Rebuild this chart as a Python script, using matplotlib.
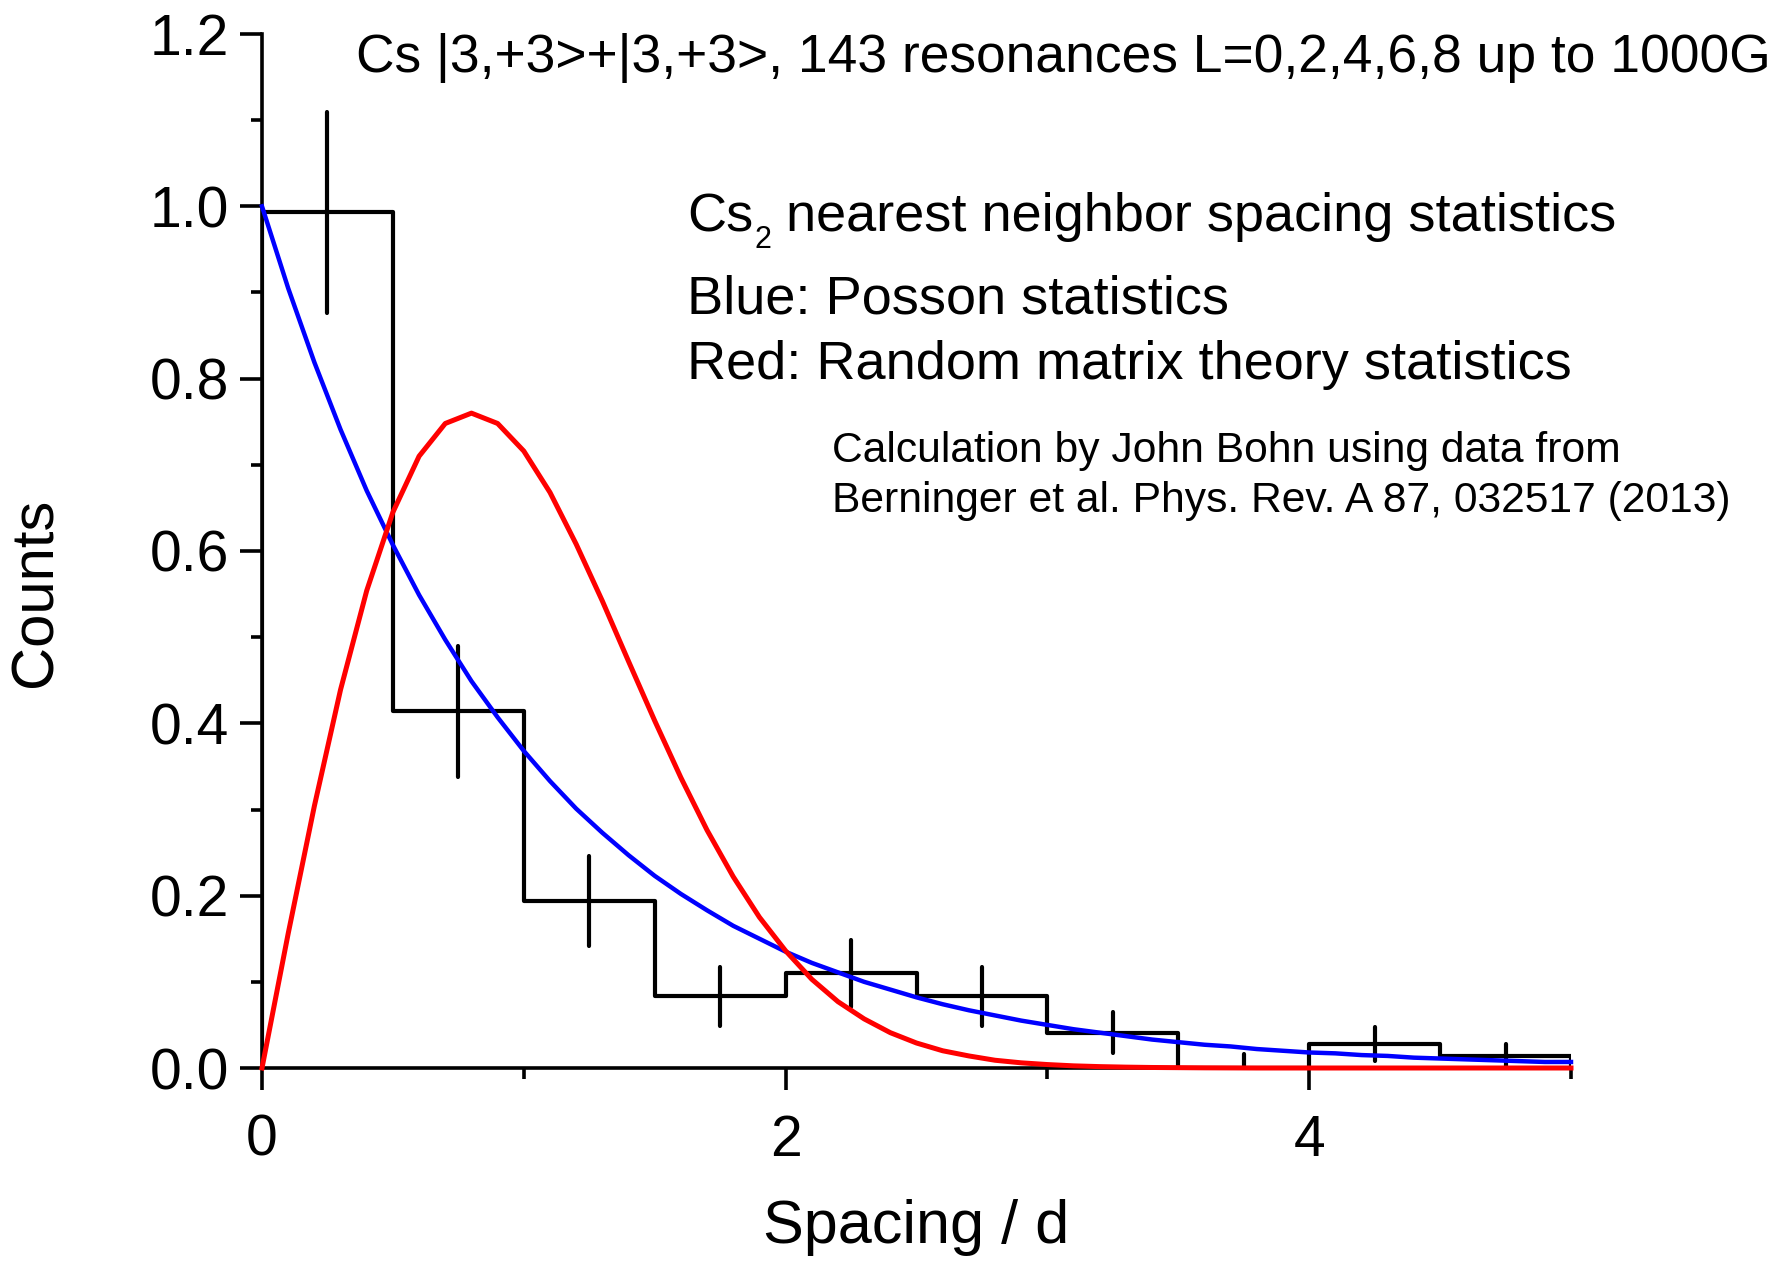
import matplotlib
matplotlib.use("Agg")
import matplotlib.pyplot as plt
from matplotlib.ticker import MultipleLocator

plt.rcParams['font.family'] = ['Liberation Sans', 'DejaVu Sans']

# ---- data ----
bin_edges = [0.0, 0.5, 1.0, 1.5, 2.0, 2.5, 3.0, 3.5, 4.0, 4.5, 5.0]
bin_centers = [0.25, 0.75, 1.25, 1.75, 2.25, 2.75, 3.25, 3.75, 4.25, 4.75]
counts = [0.993, 0.414, 0.194, 0.083, 0.110, 0.083, 0.041, 0.0, 0.028, 0.014]
count_err = [0.117, 0.076, 0.052, 0.034, 0.039, 0.034, 0.024, 0.016, 0.020, 0.014]

s_vals = [0.0, 0.1, 0.2, 0.3, 0.4, 0.5, 0.6, 0.7, 0.8, 0.9,
          1.0, 1.1, 1.2, 1.3, 1.4, 1.5, 1.6, 1.7, 1.8, 1.9,
          2.0, 2.1, 2.2, 2.3, 2.4, 2.5, 2.6, 2.7, 2.8, 2.9,
          3.0, 3.1, 3.2, 3.3, 3.4, 3.5, 3.6, 3.7, 3.8, 3.9,
          4.0, 4.1, 4.2, 4.3, 4.4, 4.5, 4.6, 4.7, 4.8, 4.9, 5.0]
poisson = [1.000, 0.905, 0.819, 0.741, 0.670, 0.607, 0.549, 0.497, 0.449, 0.407,
           0.368, 0.333, 0.301, 0.273, 0.247, 0.223, 0.202, 0.183, 0.165, 0.150,
           0.135, 0.122, 0.111, 0.100, 0.091, 0.082, 0.074, 0.067, 0.061, 0.055,
           0.050, 0.045, 0.041, 0.037, 0.033, 0.030, 0.027, 0.025, 0.022, 0.020,
           0.018, 0.017, 0.015, 0.014, 0.012, 0.011, 0.010, 0.009, 0.008, 0.007, 0.007]
rmt = [0.000, 0.156, 0.304, 0.439, 0.554, 0.645, 0.710, 0.748, 0.760, 0.748,
       0.716, 0.668, 0.608, 0.542, 0.472, 0.403, 0.337, 0.276, 0.222, 0.175,
       0.136, 0.103, 0.077, 0.057, 0.041, 0.029, 0.020, 0.014, 0.009, 0.006,
       0.004, 0.0025, 0.0016, 0.0010, 0.0006, 0.0004, 0.0002, 0.0001, 0.0, 0.0,
       0.0, 0.0, 0.0, 0.0, 0.0, 0.0, 0.0, 0.0, 0.0, 0.0, 0.0]

title_text = "Cs |3,+3>+|3,+3>, 143 resonances L=0,2,4,6,8 up to 1000G"
note1_parts = ["Cs", "2", " nearest neighbor spacing statistics"]
notes_big = ["Blue: Posson statistics",
             "Red: Random matrix theory statistics"]
notes_small = ["Calculation by John Bohn using data from",
               "Berninger et al. Phys. Rev. A 87, 032517 (2013)"]

W, H = 1784, 1262
fig = plt.figure(figsize=(W / 100, H / 100), dpi=100)
ax = fig.add_axes([262 / W, 1 - 1068 / H, (1571 - 262) / W, (1068 - 34) / H])

ax.stairs(counts, bin_edges, baseline=0, fill=False, color='black',
          linewidth=3.0, zorder=2, joinstyle='round')
eb = ax.errorbar(bin_centers, counts, yerr=count_err, fmt='none', ecolor='black',
                 elinewidth=3.0, capsize=0, zorder=2)
for lc in eb.lines[2]:
    lc.set_capstyle('round')
ax.plot(s_vals, poisson, color='#0000FF', linewidth=3.2, zorder=3, clip_on=False)
ax.plot(s_vals, rmt, color='#FF0000', linewidth=3.6, zorder=4, clip_on=False)

ax.set_xlim(0, 5)
ax.set_ylim(0, 1.2)
ax.spines['top'].set_visible(False)
ax.spines['right'].set_visible(False)
for sp in ('left', 'bottom'):
    ax.spines[sp].set_linewidth(2.6)

ax.xaxis.set_minor_locator(MultipleLocator(1))
ax.yaxis.set_minor_locator(MultipleLocator(0.1))
ax.set_xticks([0, 2, 4])
ax.set_xticklabels(['0', '2', '4'])
ax.set_yticks([0.0, 0.2, 0.4, 0.6, 0.8, 1.0, 1.2])
ax.set_yticklabels(['0.0', '0.2', '0.4', '0.6', '0.8', '1.0', '1.2'])
ax.tick_params(axis='both', which='major', direction='out', length=16, width=2.6, labelsize=41)
ax.tick_params(axis='both', which='minor', direction='out', length=8, width=2.6)
ax.tick_params(axis='y', which='major', pad=8)
ax.tick_params(axis='x', which='major', pad=17)

ax.set_xlabel("Spacing / d", fontsize=44)
ax.xaxis.label.set_va('center')
ax.xaxis.set_label_coords(0.5, -0.154)
ax.set_ylabel("Counts", fontsize=43)
ax.yaxis.label.set_va('center')
ax.yaxis.set_label_coords(-0.173, 0.46)

def fx(x):
    return x / W

def fy(y):
    return 1 - y / H

fig.text(fx(356), fy(72), title_text, fontsize=38.4, va='baseline', ha='left')

renderer = fig.canvas.get_renderer()
t_cs = fig.text(fx(687), fy(231), note1_parts[0], fontsize=39, va='baseline', ha='left')
bb = t_cs.get_window_extent(renderer)
t_sub = fig.text(bb.x1 / W + fx(1), fy(248), note1_parts[1], fontsize=22, va='baseline', ha='left')
bb2 = t_sub.get_window_extent(renderer)
fig.text(bb2.x1 / W, fy(231), note1_parts[2], fontsize=39, va='baseline', ha='left')

big_y = [313, 379]
for t, y in zip(notes_big, big_y):
    fig.text(fx(687), fy(y), t, fontsize=39, va='baseline', ha='left')
small_y = [462, 512]
for t, y in zip(notes_small, small_y):
    fig.text(fx(832), fy(y), t, fontsize=30.7, va='baseline', ha='left')

fig.savefig("out.png", dpi=100)
